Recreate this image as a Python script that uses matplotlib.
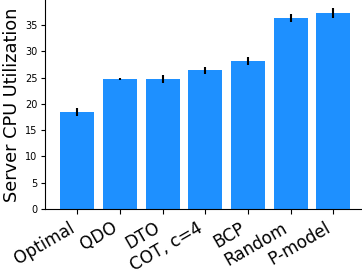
import numpy as np
import matplotlib
matplotlib.use("Agg")
import matplotlib.pyplot as plt

# Datos
metodos = ["Optimal", "QDO", "DTO", "COT, c=4", "BCP", "Random", "P-model"]
utilizacion = [18.45, 24.7, 24.7, 26.4, 28.15, 36.3, 37.3]
error = [0.7, 0.2, 0.7, 0.7, 0.85, 0.75, 0.9]

fig = plt.figure(figsize=(3.62, 2.73), dpi=100)
ax = fig.add_axes([45 / 362, 1 - 209 / 273, 1 - 45 / 362, 209 / 273])

x = np.arange(len(metodos))
ax.bar(x, utilizacion, width=0.8, color="dodgerblue")
ax.errorbar(x, utilizacion, yerr=error, fmt="none", ecolor="black", elinewidth=1.5)

ax.set_xlim(-0.76, 6.67)
ax.set_ylim(0, 39.75)
ax.set_yticks(range(0, 40, 5))
ax.tick_params(axis="y", labelsize=7, length=3, pad=2.5)
ax.set_xticks(x)
ax.set_xticklabels(metodos, rotation=30, ha="right", fontsize=12.2)
ax.set_ylabel("Server CPU Utilization", fontsize=12.8)
ax.yaxis.set_label_coords(-0.075, 0.5)

ax.spines["top"].set_visible(False)
ax.spines["right"].set_visible(False)

fig.savefig("out.png", dpi=100)
